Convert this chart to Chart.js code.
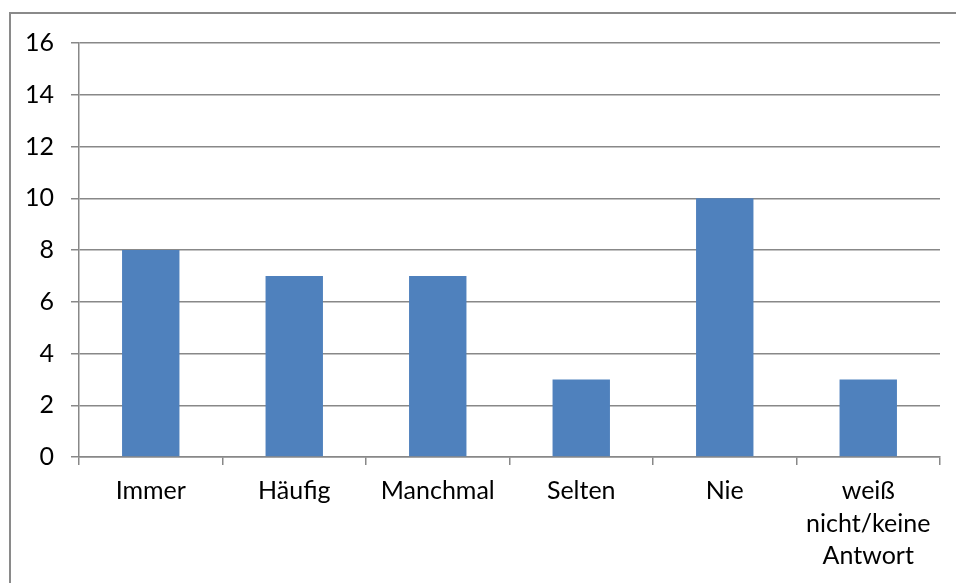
<!DOCTYPE html>
<html>
<head>
<meta charset="utf-8">
<script src="https://cdn.jsdelivr.net/npm/chart.js@4"></script>
<style>
  html, body { margin: 0; padding: 0; background: #fff; overflow: hidden; }
  #frame {
    position: absolute; left: 9px; top: 12px;
    width: 1000px; height: 1000px;
    border: 2px solid #8a8a8a;
  }
  #wrap { position: absolute; left: 0; top: 0; width: 956px; height: 583px; }
</style>
</head>
<body>
<div id="frame"></div>
<div id="wrap"><canvas id="myChart"></canvas></div>
<script>
const categories = ['Immer', 'Häufig', 'Manchmal', 'Selten', 'Nie', ['weiß', 'nicht/keine', 'Antwort']];
const counts = [8, 7, 7, 3, 10, 3];
const yMin = 0;
const yMax = 16;
const yStep = 2;

const gridGray = '#888888';
const labelFont = { family: 'Lato, "Open Sans", sans-serif', size: 25, lineHeight: 1.3 };

new Chart(document.getElementById('myChart'), {
  type: 'bar',
  data: {
    labels: categories,
    datasets: [{
      data: counts,
      backgroundColor: '#4f81bd',
      borderWidth: 0,
      barPercentage: 0.4,
      categoryPercentage: 1.0,
    }],
  },
  options: {
    responsive: true,
    maintainAspectRatio: false,
    animation: false,
    layout: { padding: { left: 0, top: 43, right: 16, bottom: 0 } },
    plugins: {
      legend: { display: false },
      tooltip: { enabled: false },
    },
    scales: {
      x: {
        offset: true,
        grid: {
          offset: true,
          drawOnChartArea: false,
          drawTicks: true,
          tickLength: 8,
          color: gridGray,
          lineWidth: 1.5,
        },
        border: { color: gridGray, width: 1.5 },
        ticks: {
          color: '#000',
          font: labelFont,
          padding: 10,
          maxRotation: 0,
          autoSkip: false,
        },
        afterFit: (scale) => { scale.height = 126; },
      },
      y: {
        min: yMin,
        max: yMax,
        grid: {
          color: gridGray,
          lineWidth: 1.5,
          drawTicks: true,
          tickLength: 8,
        },
        border: { color: gridGray, width: 1.5 },
        ticks: {
          stepSize: yStep,
          color: '#000',
          font: labelFont,
          padding: 17,
        },
        afterFit: (scale) => { scale.width = 79; },
      },
    },
  },
});
</script>
</body>
</html>
